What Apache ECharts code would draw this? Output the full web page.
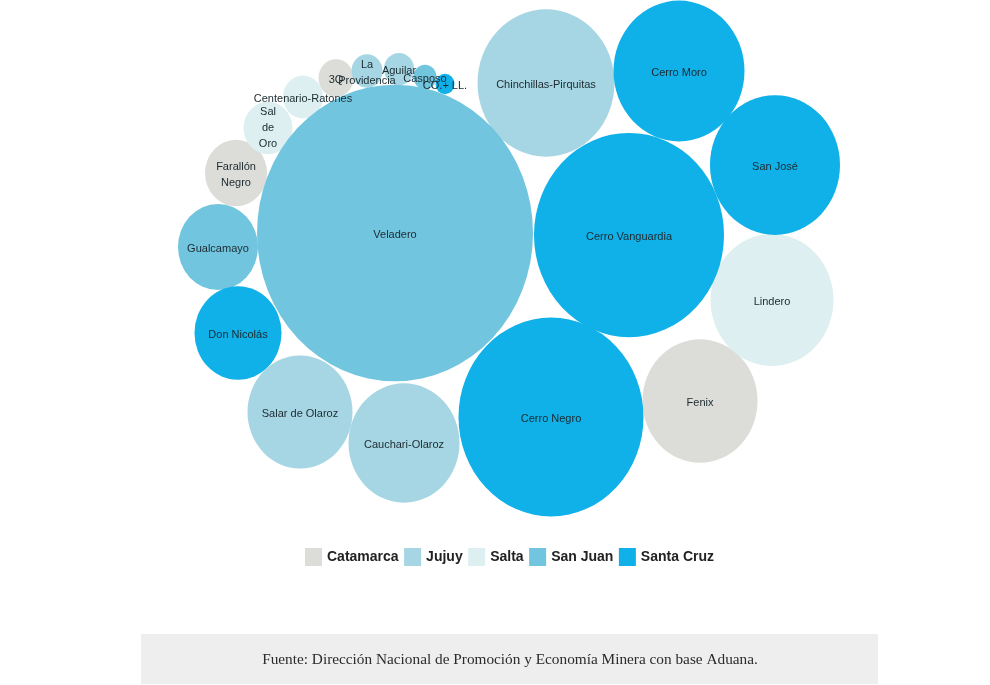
<!DOCTYPE html>
<html>
<head>
<meta charset="utf-8">
<title>Proyectos mineros por provincia</title>
<script src="https://cdn.jsdelivr.net/npm/echarts@6/dist/echarts.min.js"></script>
<style>
	html, body { margin: 0; padding: 0; background: #fff; }
	#chart { width: 990px; height: 685px; }
</style>
</head>
<body>
<div id="chart"></div>
<script>
var provinces = ['Catamarca', 'Jujuy', 'Salta', 'San Juan', 'Santa Cruz'];
var provinceColors = ['#dcdcd8', '#a6d6e3', '#ddeff0', '#72c5df', '#10b0e8'];

var names = ['Veladero', 'Cerro Vanguardia', 'Cerro Negro', 'Chinchillas-Pirquitas', 'Cerro Moro',
	'San José', 'Lindero', 'Fenix', 'Cauchari-Olaroz', 'Salar de Olaroz', 'Don Nicolás', 'Gualcamayo',
	'Farallón\nNegro', 'Sal\nde\nOro', 'Centenario-Ratones', '3Q', 'La\nProvidencia', 'Aguilar', 'Casposo', 'CO.+ LL.'];
var owners = ['San Juan', 'Santa Cruz', 'Santa Cruz', 'Jujuy', 'Santa Cruz',
	'Santa Cruz', 'Salta', 'Catamarca', 'Jujuy', 'Jujuy', 'Santa Cruz', 'San Juan',
	'Catamarca', 'Salta', 'Salta', 'Catamarca', 'Jujuy', 'Jujuy', 'San Juan', 'Santa Cruz'];
var posX = [395, 629, 551, 546, 679, 775, 772, 700, 404, 300, 238, 218, 236, 268, 303, 336, 367, 399, 425, 445];
var posY = [233, 235, 417, 83, 71, 165, 300, 401, 443, 412, 333, 247, 173, 128, 97, 78, 71, 69, 77, 84];
var sizes = [276, 190, 185, 137, 131, 130, 123, 115, 111, 105, 87, 80, 62, 49, 40, 35, 31, 30, 23, 19];

var footerText = 'Fuente: Dirección Nacional de Promoción y Economía Minera con base Aduana.';

var STRETCH = 1.075; // los círculos del original están algo estirados en vertical

function buildSeries() {
	return provinces.map(function (prov, p) {
		var rows = [];
		for (var i = 0; i < names.length; i++) {
			if (owners[i] == prov) {
				rows.push({
					name: names[i],
					value: [posX[i], posY[i], sizes[i]],
					// el texto de tres líneas ya queda centrado
					label: { offset: [0, names[i].split('\n').length > 2 ? 0 : 2] }
				});
			}
		}
		return {
			name: prov,
			type: 'scatter',
			data: rows,
			symbol: 'circle',
			symbolSize: function (v) { return [v[2], v[2] * STRETCH]; },
			itemStyle: { color: provinceColors[p], opacity: 1 },
			label: {
				show: true,
				position: 'inside',
				formatter: '{b}',
				fontFamily: 'Liberation Sans',
				fontSize: 11,
				lineHeight: 16,
				color: '#1c2a30'
			},
			emphasis: { disabled: true }
		};
	});
}

var chart = echarts.init(document.getElementById('chart'));
chart.setOption({
	animation: false,
	grid: { left: 0, right: 0, top: 0, bottom: 0 },
	xAxis: { type: 'value', min: 0, max: 990, show: false },
	yAxis: { type: 'value', min: 0, max: 685, inverse: true, show: false },
	legend: {
		left: 300,
		top: 543,
		icon: 'rect',
		itemWidth: 17,
		itemHeight: 18,
		itemGap: 5.5,
		data: provinces,
		selectedMode: false,
		textStyle: { fontFamily: 'Liberation Sans', fontSize: 14, fontWeight: 'bold', color: '#222', padding: [3, 0, 0, 0] }
	},
	graphic: [
		{
			type: 'rect',
			shape: { x: 141, y: 634, width: 737, height: 50 },
			style: { fill: '#eeeeee' }
		},
		{
			type: 'text',
			x: 510,
			y: 660,
			style: {
				text: footerText,
				fill: '#2b2b2b',
				font: '15.3px "Liberation Serif"',
				align: 'center',
				verticalAlign: 'middle'
			}
		}
	],
	series: buildSeries()
});
</script>
</body>
</html>
